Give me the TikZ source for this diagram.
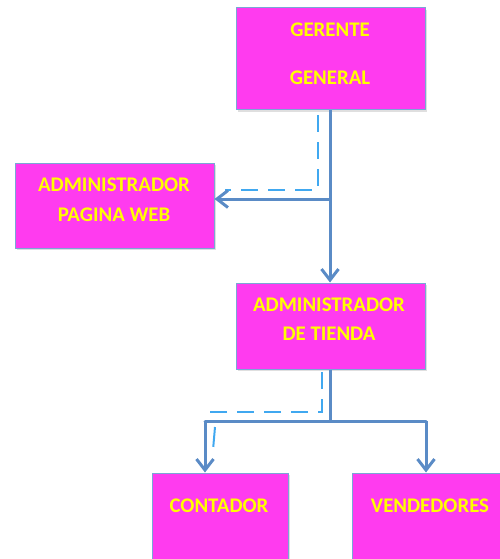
\documentclass[tikz,border=0pt]{standalone}
\usepackage{fontspec}
\setmainfont{Carlito}
\usetikzlibrary{arrows.meta,shadows}
\definecolor{boxfill}{HTML}{FF3BEF}
\definecolor{boxline}{HTML}{7AA6D6}
\definecolor{txtyellow}{HTML}{FFFF00}
\definecolor{conn}{HTML}{5A8BC6}
\definecolor{dash}{HTML}{40A8F0}
\tikzset{
  orgbox/.style={draw=boxline, line width=1pt, fill=boxfill, inner sep=0pt,
    drop shadow={shadow xshift=2pt, shadow yshift=-2pt, opacity=0.25}},
  orgtext/.style={text=txtyellow, font=\fontsize{20.8}{24}\selectfont\bfseries, inner sep=0pt},
  conline/.style={draw=conn, line width=3pt},
  conarrow/.style={conline, -{Straight Barb[length=11pt,width=17pt,line width=3pt]}},
  dashline/.style={draw=dash, line width=2pt, dash pattern=on 17pt off 10pt}
}
\begin{document}
\begin{tikzpicture}[x=1pt,y=-1pt]
\useasboundingbox (0,0) rectangle (500,559);
\clip (0,0) rectangle (500,559);
% boxes
\node[orgbox, minimum width=189pt, minimum height=102pt] (gg) at (330.5,59) {};
\node[orgbox, minimum width=199pt, minimum height=85pt] (web) at (114.5,205.5) {};
\node[orgbox, minimum width=189pt, minimum height=86pt] (tienda) at (330.5,326) {};
\node[orgbox, minimum width=136pt, minimum height=100pt] (cont) at (220,523) {};
\node[orgbox, minimum width=156pt, minimum height=100pt] (vend) at (430,523) {};
% texts
\node[orgtext] (gg1) at (330,30) {GERENTE};
\node[orgtext] (gg2) at (330,78) {GENERAL};
\node[orgtext] (web1) at (114,185) {ADMINISTRADOR};
\node[orgtext] (web2) at (114,215) {PAGINA WEB};
\node[orgtext] (ti1) at (329,305) {ADMINISTRADOR};
\node[orgtext] (ti2) at (329,334) {DE TIENDA};
\node[orgtext] (co) at (219,506) {CONTADOR};
\node[orgtext] (ve) at (430,506) {VENDEDORES};
% junction coordinates
\coordinate (j1) at (330,199);
\coordinate (j2) at (330,421);
\coordinate (jl) at (205,421);
\coordinate (jr) at (426,421);
% dashed guide coordinates
\coordinate (d1a) at (318,115);
\coordinate (d1b) at (318,190);
\coordinate (d1c) at (225,190);
\coordinate (d2a) at (322,372);
\coordinate (d2b) at (322,412);
\coordinate (d2c) at (210,412);
\coordinate (d3a) at (215,427);
\coordinate (d3b) at (213,450);
% dashed lines
\draw[dashline] (d1a) -- (d1b) -- (d1c);
\draw[dashline] (d2a) -- (d2b) -- (d2c);
\draw[dashline, dash pattern=on 20pt off 10pt] (d3a) -- (d3b);
% connectors
\draw[conarrow] (gg.south -| j1) -- (tienda.north -| j1);
\draw[conarrow] (j1) -- (j1 -| web.east);
\draw[conline] (tienda.south -| j2) -- (j2);
\draw[conline, line cap=round] (jl) -- (jr);
\draw[conarrow] (jl) -- (jl |- cont.north);
\draw[conarrow] (jr) -- (jr |- vend.north);
\end{tikzpicture}
\end{document}
